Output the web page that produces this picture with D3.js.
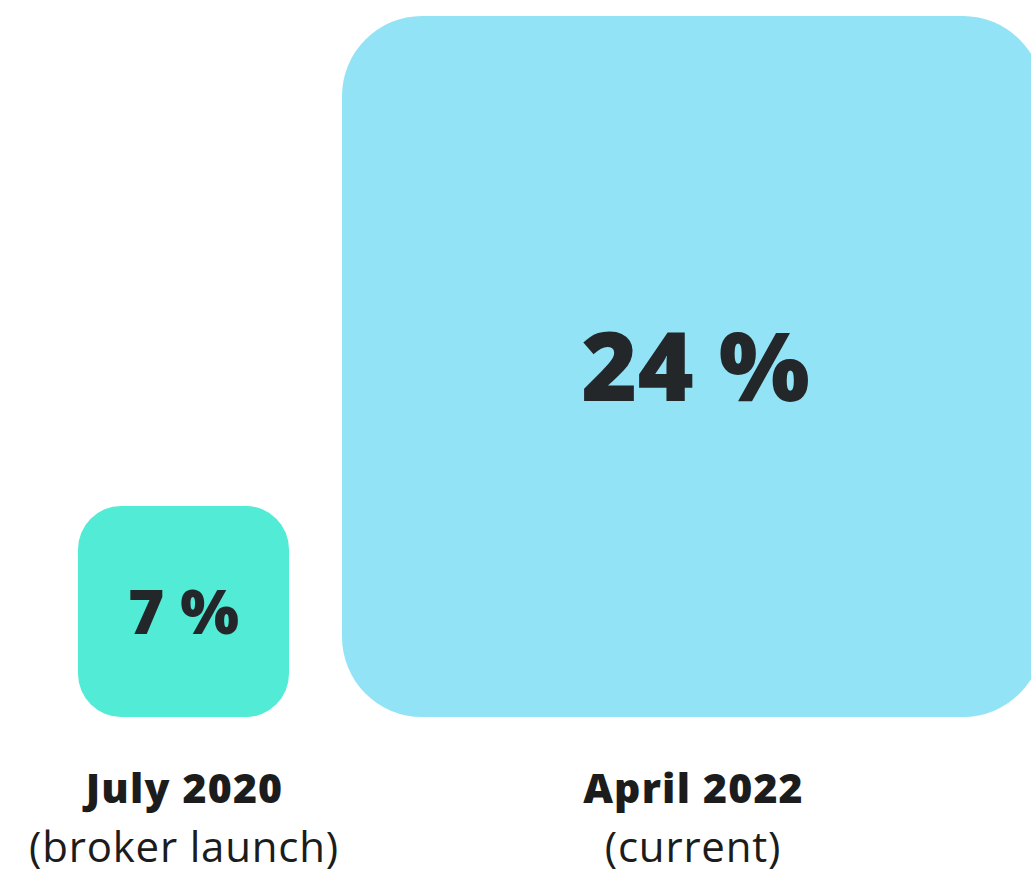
<!DOCTYPE html>
<html>
<head>
<meta charset="utf-8">
<script src="https://cdn.jsdelivr.net/npm/d3@7"></script>
<style>
  html, body { margin: 0; padding: 0; background: #fff; overflow: hidden; }
</style>
</head>
<body>
<script>
// the data: share at two points in time
let periods = ["July 2020", "April 2022"];
let subtitles = ["(broker launch)", "(current)"];
let values = [7, 24];
let colors = ["#52ebd6", "#92e3f5"];

let width = 1031, height = 873;
let baseline = 717;   // bottom of both squares
let gap = 53;

// side of each square grows with the value
let side = d3.scaleLinear().domain([7, 24]).range([211, 701]);
// rounder corners on bigger squares
let corner = d3.scaleSqrt().domain([0, 24]).range([0, 80]);

let svg = d3.select("body").append("svg")
    .attr("width", width)
    .attr("height", height);

// work out left edges, one square after the other
let lefts = [];
let x0 = 78;
values.forEach(function(v) {
  lefts.push(x0);
  x0 += side(v) + gap;
});

let data = values.map(function(v, i) {
  return {value: v, period: periods[i], sub: subtitles[i], color: colors[i], x: lefts[i]};
});

let g = svg.selectAll("g.item")
  .data(data)
  .enter().append("g")
    .attr("class", "item");

g.append("rect")
  .attr("x", function(d) { return d.x; })
  .attr("y", function(d) { return baseline - side(d.value); })
  .attr("width", function(d) { return side(d.value); })
  .attr("height", function(d) { return side(d.value); })
  .attr("rx", function(d) { return corner(d.value); })
  .attr("fill", function(d) { return d.color; });

// value inside the square
g.append("text")
  .attr("x", function(d) { return d.x + side(d.value) / 2 + (d.value > 10 ? 3 : 0); })
  .attr("y", function(d) { return baseline - side(d.value) / 2; })
  .attr("dy", "0.36em")
  .attr("text-anchor", "middle")
  .style("font-family", "'Open Sans', sans-serif")
  .style("font-weight", 800)
  .style("font-size", function(d) { return d.value > 10 ? "96px" : "62px"; })
  .style("fill", "#23272a")
  .text(function(d) { return d.value + " %"; });

// labels under the square (letter-spacing shifts the centre by half a gap)
g.append("text")
  .attr("x", function(d) { return d.x + side(d.value) / 2 + 1; })
  .attr("y", 803)
  .attr("text-anchor", "middle")
  .style("font-family", "'Open Sans', sans-serif")
  .style("font-weight", 800)
  .style("font-size", "41px")
  .style("letter-spacing", "1.2px")
  .style("fill", "#1c1c1c")
  .text(function(d) { return d.period; });

g.append("text")
  .attr("x", function(d) { return d.x + side(d.value) / 2 + 0.5; })
  .attr("y", 862)
  .attr("text-anchor", "middle")
  .style("font-family", "'Open Sans', sans-serif")
  .style("font-weight", 400)
  .style("font-size", "42px")
  .style("letter-spacing", "0.8px")
  .style("fill", "#1c1c1c")
  .text(function(d) { return d.sub; });
</script>
</body>
</html>
